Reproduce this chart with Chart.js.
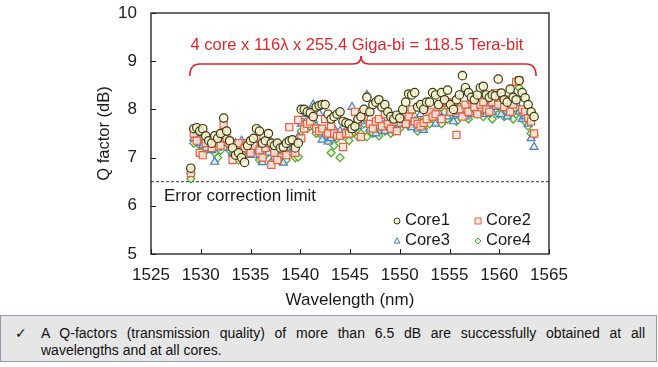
<!DOCTYPE html>
<html>
<head>
<meta charset="utf-8">
<script src="https://cdn.jsdelivr.net/npm/chart.js@4.4.1/dist/chart.umd.min.js"></script>
<style>
    html, body { margin: 0; padding: 0; background: #fff; }
    body { width: 658px; height: 367px; position: relative; overflow: hidden; font-family: "Liberation Sans", Arial, sans-serif; }
    #chartBox { position: absolute; left: 0; top: 0; }
    .note { position: absolute; left: 0; top: 315px; width: 655px; height: 45px; background: #e6e6e6; border: 1px solid #8c9db3; color: #111; }
    .note .check { position: absolute; left: 14px; top: 9px; font-size: 14px; font-family: "DejaVu Sans", sans-serif; }
    .note p { position: absolute; left: 40px; top: 9px; width: 604px; margin: 0; font-size: 14px; line-height: 17px; text-align: justify; }
</style>
</head>
<body>
<canvas id="chartBox" width="658" height="312"></canvas>
<div class="note">
    <span class="check">✓</span>
    <p>A Q-factors (transmission quality) of more than 6.5 dB are successfully obtained at all wavelengths and at all cores.</p>
</div>
<script>
// Data
const wavelengths = [
    1529.0, 1529.3, 1529.6, 1529.9, 1530.2, 1530.5, 1530.8, 1531.1, 1531.4, 1531.7,
    1532.0, 1532.3, 1532.6, 1532.9, 1533.2, 1533.5, 1533.8, 1534.1, 1534.4, 1534.7,
    1535.0, 1535.3, 1535.6, 1535.9, 1536.2, 1536.5, 1536.8, 1537.1, 1537.4, 1537.7,
    1538.0, 1538.3, 1538.6, 1538.9, 1539.2, 1539.5, 1539.8, 1540.1, 1540.4, 1540.7,
    1541.0, 1541.3, 1541.6, 1541.9, 1542.2, 1542.5, 1542.8, 1543.1, 1543.4, 1543.7,
    1544.0, 1544.3, 1544.6, 1544.9, 1545.2, 1545.5, 1545.8, 1546.1, 1546.4, 1546.7,
    1547.0, 1547.3, 1547.6, 1547.9, 1548.2, 1548.5, 1548.8, 1549.1, 1549.4, 1549.7,
    1550.0, 1550.3, 1550.6, 1550.9, 1551.2, 1551.5, 1551.8, 1552.1, 1552.4, 1552.7,
    1553.0, 1553.3, 1553.6, 1553.9, 1554.2, 1554.5, 1554.8, 1555.1, 1555.4, 1555.7,
    1556.0, 1556.3, 1556.6, 1556.9, 1557.2, 1557.5, 1557.8, 1558.1, 1558.4, 1558.7,
    1559.0, 1559.3, 1559.6, 1559.9, 1560.2, 1560.5, 1560.8, 1561.1, 1561.4, 1561.7,
    1562.0, 1562.3, 1562.6, 1562.9, 1563.2, 1563.5
];

const core1 = [
    6.78, 7.60, 7.62, 7.55, 7.60, 7.45, 7.35, 7.30, 7.45, 7.40,
    7.50, 7.82, 7.55, 7.35, 7.20, 7.05, 7.10, 7.00, 6.90, 7.25,
    7.35, 7.40, 7.60, 7.55, 7.30, 7.35, 7.50, 7.30, 7.25, 7.30,
    7.20, 7.22, 7.30, 7.35, 7.37, 7.20, 7.30, 8.00, 8.00, 7.95,
    7.93, 7.85, 8.05, 8.08, 8.10, 8.10, 7.90, 7.80, 7.85, 7.90,
    7.95, 7.75, 7.72, 7.70, 7.60, 7.65, 7.80, 7.85, 8.00, 8.25,
    7.95, 8.10, 8.15, 8.20, 8.05, 8.10, 7.95, 7.85, 7.80, 7.88,
    7.82, 8.00, 8.15, 8.32, 8.30, 8.35, 8.05, 8.10, 8.00, 8.15,
    8.15, 8.35, 8.30, 8.10, 8.35, 8.20, 8.40, 8.10, 8.00, 8.20,
    8.30, 8.70, 8.45, 8.35, 8.25, 8.20, 8.30, 8.45, 8.48, 8.30,
    8.25, 8.30, 8.28, 8.63, 8.34, 8.20, 8.15, 8.42, 8.25, 8.20,
    8.60, 8.35, 8.24, 8.10, 7.95, 7.85
];

const core2 = [
    6.68, 7.50, 7.35, 7.10, 7.05, 7.30, 7.40, 7.20, 7.35, 7.30,
    7.25, 7.68, 7.40, 7.30, 6.95, 7.15, 7.30, 7.05, 7.20, 7.30,
    7.10, 7.25, 7.40, 7.15, 7.00, 7.20, 7.30, 6.85, 7.10, 6.95,
    7.25, 7.15, 7.05, 7.63, 7.30, 7.10, 7.78, 7.40, 7.60, 7.70,
    7.75, 7.90, 7.60, 7.55, 7.60, 7.80, 7.50, 7.65, 7.50, 7.45,
    7.45, 7.22, 7.50, 7.50, 7.60, 7.95, 7.75, 7.43, 7.85, 7.95,
    7.70, 7.60, 7.75, 7.80, 7.65, 7.90, 7.70, 7.60, 7.75, 7.55,
    7.80, 7.90, 7.70, 7.85, 8.00, 7.75, 7.70, 7.65, 7.72, 7.80,
    7.95, 7.85, 7.90, 8.05, 7.80, 8.13, 8.15, 7.95, 8.05, 7.47,
    8.00, 7.85, 8.10, 7.95, 8.20, 8.05, 7.90, 8.10, 8.15, 8.00,
    7.95, 8.15, 8.34, 8.10, 8.28, 8.05, 8.20, 7.95, 8.10, 8.57,
    8.60, 8.00, 7.95, 7.82, 7.75, 7.50
];

const core3 = [
    6.72, 7.40, 7.50, 7.30, 7.25, 7.20, 7.35, 7.15, 6.91, 7.20,
    7.30, 7.60, 7.35, 7.20, 7.10, 7.30, 7.20, 7.35, 7.05, 7.15,
    7.25, 7.05, 7.30, 7.15, 6.90, 7.20, 7.10, 7.30, 7.00, 7.15,
    7.05, 6.89, 7.20, 7.30, 7.10, 7.25, 7.43, 7.70, 7.85, 7.90,
    7.80, 8.10, 7.65, 7.92, 7.37, 7.50, 7.33, 7.40, 7.60, 7.45,
    7.55, 7.50, 7.70, 7.60, 8.05, 7.70, 7.65, 7.75, 7.90, 8.30,
    7.60, 7.70, 7.50, 7.65, 7.80, 7.55, 7.70, 7.75, 7.60, 7.85,
    7.70, 7.95, 7.80, 7.80, 7.63, 7.75, 7.60, 7.90, 7.57, 8.00,
    7.90, 7.85, 7.70, 7.95, 7.78, 8.13, 7.85, 8.00, 7.75, 7.90,
    7.95, 8.36, 7.85, 8.10, 7.90, 8.05, 7.95, 8.00, 8.20, 7.90,
    8.10, 7.95, 8.05, 8.15, 7.90, 8.10, 7.85, 8.00, 8.30, 8.13,
    7.95, 7.80, 7.85, 7.70, 7.40, 7.22
];

const core4 = [
    6.56, 7.30, 7.40, 7.25, 7.30, 7.15, 7.20, 7.25, 7.10, 7.00,
    7.15, 7.45, 7.30, 7.15, 7.05, 7.20, 6.95, 7.10, 7.25, 7.10,
    7.15, 7.30, 7.20, 6.95, 7.10, 7.05, 7.20, 6.90, 7.15, 7.05,
    6.92, 7.10, 6.95, 7.20, 7.35, 7.00, 7.01, 7.55, 7.70, 7.60,
    7.65, 7.75, 7.50, 7.60, 7.45, 7.55, 7.35, 7.10, 7.25, 7.40,
    7.00, 7.45, 7.55, 7.35, 7.50, 7.60, 7.43, 7.50, 7.70, 7.43,
    7.55, 7.50, 7.60, 7.45, 7.70, 7.55, 7.65, 7.50, 7.55, 7.70,
    7.60, 7.75, 7.80, 7.65, 7.70, 7.85, 7.55, 7.75, 7.60, 7.80,
    7.70, 7.90, 7.75, 7.85, 7.70, 7.95, 7.80, 7.90, 7.85, 7.75,
    8.05, 7.90, 8.00, 7.80, 7.95, 8.10, 7.90, 8.00, 7.85, 8.05,
    7.95, 7.80, 8.10, 7.90, 8.00, 7.85, 7.95, 8.05, 7.80, 7.90,
    8.45, 7.90, 7.75, 7.65, 7.50, 7.47
];

const xTicks = [1525, 1530, 1535, 1540, 1545, 1550, 1555, 1560, 1565];
const yTicks = [5, 6, 7, 8, 9, 10];
const errorLimit = 6.5;

const FONT = '"Liberation Sans", Arial, sans-serif';
const INK = '#1a1a1a';

// Series styles
const series = [
    { label: 'Core1', values: core1, style: 'circle', radius: 4.2, border: '#3a3a12', fill: 'rgba(248,245,210,0.85)' },
    { label: 'Core2', values: core2, style: 'rect', radius: 5, border: '#e8603c', fill: 'rgba(253,230,218,0.85)' },
    { label: 'Core3', values: core3, style: 'triangle', radius: 4.6, border: '#4a7ebb', fill: 'rgba(224,234,248,0.85)' },
    { label: 'Core4', values: core4, style: 'rectRot', radius: 4, border: '#4ea72e', fill: 'rgba(226,243,214,0.85)' }
];

function toPoints(values) {
    return wavelengths.map((w, i) => ({ x: w, y: values[i] }));
}

// Legend marker drawn by hand (small size like the reference)
function drawMarker(ctx, s, x, y, r) {
    ctx.beginPath();
    if (s.style === 'circle') {
        ctx.arc(x, y, r, 0, Math.PI * 2);
    } else if (s.style === 'rect') {
        ctx.rect(x - r, y - r, 2 * r, 2 * r);
    } else if (s.style === 'triangle') {
        ctx.moveTo(x, y - r * 1.1);
        ctx.lineTo(x + r, y + r * 0.7);
        ctx.lineTo(x - r, y + r * 0.7);
        ctx.closePath();
    } else {
        ctx.moveTo(x, y - r);
        ctx.lineTo(x + r, y);
        ctx.lineTo(x, y + r);
        ctx.lineTo(x - r, y);
        ctx.closePath();
    }
    ctx.fillStyle = s.fill;
    ctx.fill();
    ctx.strokeStyle = s.border;
    ctx.lineWidth = 1;
    ctx.stroke();
}

// Frame, inner ticks, labels, brace and legend
const decor = {
    id: 'decor',
    afterDatasetsDraw(chart) {
        const { ctx, chartArea: a, scales: { x, y } } = chart;
        ctx.save();

        // frame
        ctx.strokeStyle = INK;
        ctx.lineWidth = 1.3;
        ctx.strokeRect(a.left, a.top, a.right - a.left, a.bottom - a.top);

        // inward tick marks
        ctx.beginPath();
        xTicks.forEach(v => {
            const px = Math.round(x.getPixelForValue(v)) + 0.5;
            ctx.moveTo(px, a.bottom);
            ctx.lineTo(px, a.bottom - 5);
        });
        yTicks.forEach(v => {
            const py = Math.round(y.getPixelForValue(v)) + 0.5;
            ctx.moveTo(a.left, py);
            ctx.lineTo(a.left + 5, py);
        });
        ctx.lineWidth = 1;
        ctx.stroke();

        // y axis title
        ctx.save();
        ctx.translate(104, (a.top + a.bottom) / 2);
        ctx.rotate(-Math.PI / 2);
        ctx.fillStyle = INK;
        ctx.font = '16.5px ' + FONT;
        ctx.textAlign = 'center';
        ctx.textBaseline = 'middle';
        ctx.fillText('Q factor (dB)', 0, 0);
        ctx.restore();

        // error limit label
        const limY = y.getPixelForValue(errorLimit);
        ctx.fillStyle = INK;
        ctx.font = '17px ' + FONT;
        ctx.textBaseline = 'middle';
        ctx.textAlign = 'left';
        ctx.fillText('Error correction limit', a.left + 13, limY + 15);

        // red capacity label + brace
        const red = '#e0262b';
        ctx.fillStyle = red;
        ctx.font = '16.5px ' + FONT;
        ctx.textAlign = 'center';
        ctx.fillText('4 core x 116\u03bb x 255.4 Giga-bi = 118.5 Tera-bit', a.left + 206, 45);

        const x0 = x.getPixelForValue(1528.9);
        const x1 = x.getPixelForValue(1563.7);
        const xm = a.left + 210;
        const lineY = 64, endY = 76, tipY = 56;
        ctx.beginPath();
        ctx.moveTo(x0, endY);
        ctx.quadraticCurveTo(x0, lineY, x0 + 10, lineY);
        ctx.lineTo(xm - 8, lineY);
        ctx.quadraticCurveTo(xm, lineY, xm, tipY);
        ctx.quadraticCurveTo(xm, lineY, xm + 8, lineY);
        ctx.lineTo(x1 - 10, lineY);
        ctx.quadraticCurveTo(x1, lineY, x1, endY);
        ctx.strokeStyle = red;
        ctx.lineWidth = 1.6;
        ctx.stroke();

        // legend, two columns in lower right of plot
        const cols = [a.left + 246, a.left + 327];
        const rows = [a.bottom - 34, a.bottom - 14];
        ctx.font = '16.5px ' + FONT;
        ctx.textAlign = 'left';
        series.forEach((s, i) => {
            const cx = cols[i % 2];
            const cy = rows[Math.floor(i / 2)];
            drawMarker(ctx, s, cx, cy + 1, 3);
            ctx.fillStyle = INK;
            ctx.fillText(s.label, cx + 8, cy);
        });

        ctx.restore();
    }
};

const datasets = series.map((s, i) => ({
    label: s.label,
    data: toPoints(s.values),
    pointStyle: s.style,
    pointRadius: s.radius,
    pointBorderWidth: 1.2,
    pointBorderColor: s.border,
    pointBackgroundColor: s.fill,
    order: i
}));

datasets.push({
    label: 'limit',
    data: [{ x: 1525, y: errorLimit }, { x: 1565, y: errorLimit }],
    showLine: true,
    borderColor: '#333',
    borderWidth: 1,
    borderDash: [3, 2],
    pointRadius: 0,
    order: 10
});

new Chart(document.getElementById('chartBox'), {
    type: 'scatter',
    data: { datasets },
    options: {
        responsive: false,
        animation: false,
        layout: { padding: { left: 0, top: 13, right: 109, bottom: 0 } },
        plugins: { legend: { display: false }, tooltip: { enabled: false } },
        scales: {
            x: {
                type: 'linear',
                min: 1525,
                max: 1565,
                afterFit: s => { s.height = 58; s.paddingLeft = 0; s.paddingRight = 0; },
                afterBuildTicks: s => { s.ticks = xTicks.map(v => ({ value: v })); },
                grid: { display: false, drawTicks: false },
                border: { display: false },
                ticks: { autoSkip: false, maxRotation: 0, padding: 11, color: INK, font: { family: FONT, size: 17 }, callback: v => String(v) },
                title: { display: true, text: 'Wavelength (nm)', color: INK, font: { family: FONT, size: 17 }, padding: { top: 0, bottom: 1 } }
            },
            y: {
                min: 5,
                max: 10,
                afterFit: s => { s.width = 151; s.paddingTop = 0; s.paddingBottom = 0; },
                afterBuildTicks: s => { s.ticks = yTicks.map(v => ({ value: v })); },
                grid: { display: false, drawTicks: false },
                border: { display: false },
                ticks: { padding: 14, color: INK, font: { family: FONT, size: 17 } },
                title: { display: false }
            }
        }
    },
    plugins: [decor]
});
</script>
</body>
</html>
